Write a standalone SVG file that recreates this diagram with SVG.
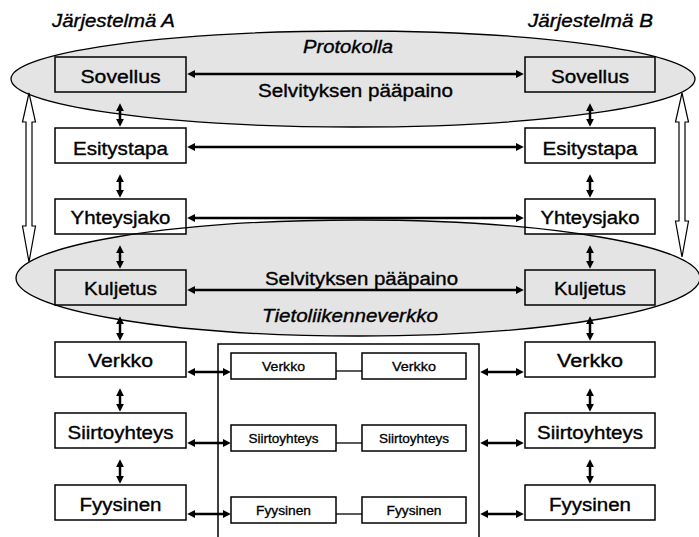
<svg xmlns="http://www.w3.org/2000/svg" xmlns:xlink="http://www.w3.org/1999/xlink" width="699" height="537" viewBox="0 0 699 537">
  <style>
    .region { fill: #e4e4e4; stroke: none; }
    .region-edge { fill: none; stroke: #000; stroke-width: 1.3; }
    .box { fill: #fff; stroke: #000; stroke-width: 1.5; }
    .box.shaded { fill: #e4e4e4; }
    .frame { fill: none; stroke: #000; stroke-width: 1.5; }
    .link { stroke: #000; stroke-width: 2.5; fill: none; marker-start: url(#ah); marker-end: url(#ah); }
    .plain { stroke: #000; stroke-width: 1.3; fill: none; }
    .hollow { fill: #fff; stroke: #000; stroke-width: 1.2; stroke-linejoin: miter; }
    text { font-family: "Liberation Sans", Arial, sans-serif; fill: #000; stroke: #000; stroke-width: 0.35; }
    .lbl { font-size: 18px; text-anchor: middle; }
    .small { font-size: 13px; text-anchor: middle; stroke-width: 0.3; }
    .ital { font-size: 18px; font-style: italic; }
  </style>
  <defs>
    <marker id="ah" viewBox="0 0 10 10" refX="4" refY="5" markerWidth="8" markerHeight="8" markerUnits="userSpaceOnUse" orient="auto-start-reverse">
      <path d="M0,0 L10,5 L0,10 z" fill="#000"/>
    </marker>
    <ellipse id="shape-protokolla" cx="353" cy="79" rx="342" ry="48"/>
    <ellipse id="shape-verkko" cx="358" cy="278" rx="342" ry="58"/>
  </defs>

  <!-- shaded protocol / network regions -->
  <g id="regions">
    <use xlink:href="#shape-protokolla" class="region"/>
    <use xlink:href="#shape-verkko" class="region"/>
  </g>

  <!-- system A layers -->
  <g id="a-sovellus"><rect class="box shaded" x="55" y="57" width="131" height="35"/></g>
  <g id="a-esitystapa"><rect class="box" x="55" y="128" width="131" height="35"/></g>
  <g id="a-yhteysjako"><rect class="box" x="55" y="199" width="131" height="35"/></g>
  <g id="a-kuljetus"><rect class="box shaded" x="55" y="270" width="131" height="35"/></g>
  <g id="a-verkko"><rect class="box" x="55" y="342" width="131" height="35"/></g>
  <g id="a-siirtoyhteys"><rect class="box" x="55" y="413" width="131" height="35"/></g>
  <g id="a-fyysinen"><rect class="box" x="55" y="485" width="131" height="35"/></g>

  <!-- system B layers -->
  <g id="b-sovellus"><rect class="box shaded" x="525" y="57" width="130" height="35"/></g>
  <g id="b-esitystapa"><rect class="box" x="525" y="128" width="130" height="35"/></g>
  <g id="b-yhteysjako"><rect class="box" x="525" y="199" width="130" height="35"/></g>
  <g id="b-kuljetus"><rect class="box shaded" x="525" y="270" width="130" height="35"/></g>
  <g id="b-verkko"><rect class="box" x="525" y="342" width="130" height="35"/></g>
  <g id="b-siirtoyhteys"><rect class="box" x="525" y="413" width="130" height="35"/></g>
  <g id="b-fyysinen"><rect class="box" x="525" y="485" width="130" height="35"/></g>

  <!-- intermediate network node -->
  <g id="network">
    <path class="frame" d="M218,537 L218,344 L479,344 L479,537"/>
  </g>
  <g id="n-verkko-1"><rect class="box" x="231" y="353" width="105" height="26"/></g>
  <g id="n-verkko-2"><rect class="box" x="362" y="353" width="104" height="26"/></g>
  <g id="n-siirtoyhteys-1"><rect class="box" x="231" y="425" width="105" height="26"/></g>
  <g id="n-siirtoyhteys-2"><rect class="box" x="362" y="425" width="104" height="26"/></g>
  <g id="n-fyysinen-1"><rect class="box" x="231" y="497" width="105" height="26"/></g>
  <g id="n-fyysinen-2"><rect class="box" x="362" y="497" width="104" height="26"/></g>

  <!-- region outlines drawn over the boxes they cross -->
  <g id="region-edges">
    <use xlink:href="#shape-protokolla" class="region-edge"/>
    <use xlink:href="#shape-verkko" class="region-edge"/>
  </g>

  <g id="connectors">
    <!-- peer-to-peer links -->
    <line class="link" x1="192" y1="74" x2="519" y2="74"/>
    <line class="link" x1="192" y1="147" x2="519" y2="147"/>
    <line class="link" x1="192" y1="218" x2="519" y2="218"/>
    <line class="link" x1="192" y1="290" x2="519" y2="290"/>
    <!-- links into the network node -->
    <line class="link" x1="192" y1="372" x2="226" y2="372"/>
    <line class="link" x1="192" y1="443" x2="226" y2="443"/>
    <line class="link" x1="192" y1="514" x2="226" y2="514"/>
    <line class="link" x1="485" y1="372" x2="519" y2="372"/>
    <line class="link" x1="485" y1="443" x2="519" y2="443"/>
    <line class="link" x1="485" y1="514" x2="519" y2="514"/>
    <!-- inside the network node -->
    <line class="plain" x1="336" y1="371" x2="362" y2="371"/>
    <line class="plain" x1="336" y1="443" x2="362" y2="443"/>
    <line class="plain" x1="336" y1="514" x2="362" y2="514"/>
    <!-- layer stack, system A -->
    <line class="link" x1="120" y1="108" x2="120" y2="122"/>
    <line class="link" x1="120" y1="179" x2="120" y2="193"/>
    <line class="link" x1="120" y1="250" x2="120" y2="264"/>
    <line class="link" x1="120" y1="321" x2="120" y2="336"/>
    <line class="link" x1="120" y1="393" x2="120" y2="407"/>
    <line class="link" x1="120" y1="464" x2="120" y2="479"/>
    <!-- layer stack, system B -->
    <line class="link" x1="590" y1="108" x2="590" y2="122"/>
    <line class="link" x1="590" y1="179" x2="590" y2="193"/>
    <line class="link" x1="590" y1="250" x2="590" y2="264"/>
    <line class="link" x1="590" y1="321" x2="590" y2="336"/>
    <line class="link" x1="590" y1="393" x2="590" y2="407"/>
    <line class="link" x1="590" y1="464" x2="590" y2="479"/>
    <!-- hollow double arrows between the regions -->
    <path class="hollow" d="M29,93 L35.5,122 L32,122 L32,226 L35.5,226 L29,262 L22.5,226 L26,226 L26,122 L22.5,122 Z"/>
    <path class="hollow" d="M682,93 L688.5,122 L685,122 L685,221 L688.5,221 L682,257 L675.5,221 L679,221 L679,122 L675.5,122 Z"/>
  </g>

  <g id="labels">
    <text class="ital" x="52" y="27" textLength="123" lengthAdjust="spacingAndGlyphs">Järjestelmä A</text>
    <text class="ital" x="528" y="27" textLength="125" lengthAdjust="spacingAndGlyphs">Järjestelmä B</text>
    <text class="ital" x="303" y="53" textLength="90" lengthAdjust="spacingAndGlyphs">Protokolla</text>
    <text class="lbl" x="355.5" y="97" textLength="195" lengthAdjust="spacingAndGlyphs">Selvityksen pääpaino</text>
    <text class="lbl" x="361.5" y="285" textLength="193" lengthAdjust="spacingAndGlyphs">Selvityksen pääpaino</text>
    <text class="ital" x="262" y="322" textLength="176" lengthAdjust="spacingAndGlyphs">Tietoliikenneverkko</text>

    <text class="lbl" x="120.5" y="83" textLength="80" lengthAdjust="spacingAndGlyphs">Sovellus</text>
    <text class="lbl" x="120.5" y="155" textLength="95" lengthAdjust="spacingAndGlyphs">Esitystapa</text>
    <text class="lbl" x="120.5" y="224" textLength="100" lengthAdjust="spacingAndGlyphs">Yhteysjako</text>
    <text class="lbl" x="120.5" y="295" textLength="73" lengthAdjust="spacingAndGlyphs">Kuljetus</text>
    <text class="lbl" x="120.5" y="367" textLength="65" lengthAdjust="spacingAndGlyphs">Verkko</text>
    <text class="lbl" x="120.5" y="439" textLength="106" lengthAdjust="spacingAndGlyphs">Siirtoyhteys</text>
    <text class="lbl" x="120.5" y="511" textLength="82" lengthAdjust="spacingAndGlyphs">Fyysinen</text>

    <text class="lbl" x="590" y="83" textLength="78" lengthAdjust="spacingAndGlyphs">Sovellus</text>
    <text class="lbl" x="590" y="155" textLength="95" lengthAdjust="spacingAndGlyphs">Esitystapa</text>
    <text class="lbl" x="590" y="224" textLength="99" lengthAdjust="spacingAndGlyphs">Yhteysjako</text>
    <text class="lbl" x="590" y="295" textLength="72" lengthAdjust="spacingAndGlyphs">Kuljetus</text>
    <text class="lbl" x="590" y="367" textLength="66" lengthAdjust="spacingAndGlyphs">Verkko</text>
    <text class="lbl" x="590" y="439" textLength="106" lengthAdjust="spacingAndGlyphs">Siirtoyhteys</text>
    <text class="lbl" x="590" y="511" textLength="82" lengthAdjust="spacingAndGlyphs">Fyysinen</text>

    <text class="small" x="283.5" y="371" textLength="43" lengthAdjust="spacingAndGlyphs">Verkko</text>
    <text class="small" x="414" y="371" textLength="44" lengthAdjust="spacingAndGlyphs">Verkko</text>
    <text class="small" x="283.5" y="443" textLength="70" lengthAdjust="spacingAndGlyphs">Siirtoyhteys</text>
    <text class="small" x="414" y="443" textLength="70" lengthAdjust="spacingAndGlyphs">Siirtoyhteys</text>
    <text class="small" x="283.5" y="515" textLength="55" lengthAdjust="spacingAndGlyphs">Fyysinen</text>
    <text class="small" x="414" y="515" textLength="55" lengthAdjust="spacingAndGlyphs">Fyysinen</text>
  </g>
</svg>
